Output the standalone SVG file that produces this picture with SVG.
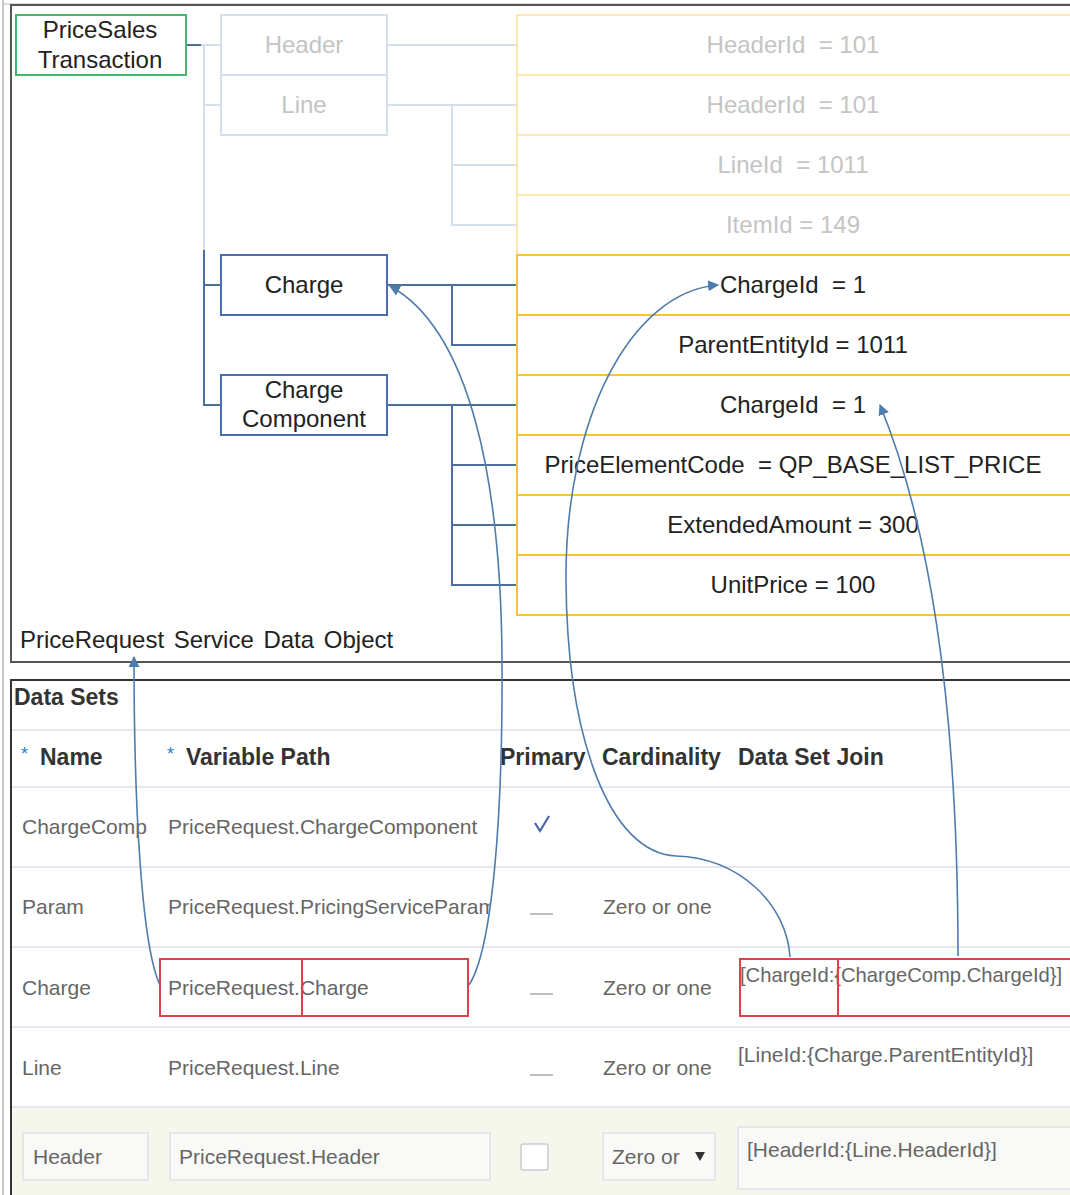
<svg xmlns="http://www.w3.org/2000/svg" width="1070" height="1195" viewBox="0 0 1070 1195">
<style>
text{font-family:"Liberation Sans",Arial,sans-serif}
.t{font-size:24px;fill:#222;text-anchor:middle}
.tf{font-size:24px;fill:#c4c4c4;text-anchor:middle}
.fbox{fill:#fff;stroke:#d6dfec;stroke-width:2}
.dbox{fill:#fff;stroke:#4a6fad;stroke-width:2}
.yf{fill:#fff;stroke:#fde8b4;stroke-width:2}
.yb{fill:#fff;stroke:#f9c23c;stroke-width:2}
.cf{fill:none;stroke:#d6dfec;stroke-width:2}
.cd{fill:none;stroke:#4d6f9c;stroke-width:2}
.arr{fill:none;stroke:#4f7caa;stroke-width:1.6}
.hd{font-size:23px;font-weight:bold;fill:#333}
.b{font-size:21px;fill:#666}
.star{font-size:18px;fill:#2f7fc6}
.rl{stroke:#e2e8ee;stroke-width:2}
.red{fill:none;stroke:#d9434b;stroke-width:2}
.dash{stroke:#aaa;stroke-width:1.5}
.inp{fill:#f9faf8;stroke:#dde2e6;stroke-width:1.5}
</style>
<defs>
<marker id="ah" viewBox="0 0 10 10" refX="9" refY="5" markerWidth="11" markerHeight="11" markerUnits="userSpaceOnUse" orient="auto">
<path d="M0,0 L10,5 L0,10 z" fill="#4f7caa"/>
</marker>
<clipPath id="clipParam"><rect x="160" y="880" width="330" height="60"/></clipPath>
</defs>
<rect width="1070" height="1195" fill="#fff"/>
<!-- frames -->
<line x1="3" y1="0" x2="3" y2="1195" stroke="#c8c8c8" stroke-width="2"/>
<line x1="3" y1="4" x2="1070" y2="4" stroke="#bbb" stroke-width="1"/>
<path d="M1075,5 L11,5 L11,662 L1075,662" fill="none" stroke="#555" stroke-width="2"/>
<path d="M1075,680 L11,680 L11,1195" fill="none" stroke="#333" stroke-width="2"/>

<g id="connectors">
<path class="cd" d="M186,45 H201"/>
<path class="cf" d="M201,45 H221 M204,45 V255 M204,105 H221"/>
<path class="cd" d="M204,250 V405 H221 M204,285 H221"/>
<path class="cf" d="M387,45 H517 M387,105 H517 M452,105 V225 H517 M452,165 H517"/>
<path class="cd" d="M387,285 H517 M452,285 V345 H517"/>
<path class="cd" d="M387,405 H517 M452,405 V585 H517 M452,465 H517 M452,525 H517"/>
</g>

<g id="node-pricesales">
<rect x="16" y="15" width="170" height="60" fill="#fff" stroke="#3dba6c" stroke-width="2"/>
<text class="t" x="100" y="38">PriceSales</text>
<text class="t" x="100" y="68">Transaction</text>
</g>
<g id="node-header"><rect class="fbox" x="221" y="15" width="166" height="60"/><text class="tf" x="304" y="53">Header</text></g>
<g id="node-line"><rect class="fbox" x="221" y="75" width="166" height="60"/><text class="tf" x="304" y="113">Line</text></g>
<g id="node-charge"><rect class="dbox" x="221" y="255" width="166" height="60"/><text class="t" x="304" y="293">Charge</text></g>
<g id="node-chargecomponent"><rect class="dbox" x="221" y="375" width="166" height="60"/><text class="t" x="304" y="398">Charge</text><text class="t" x="304" y="427">Component</text></g>

<g id="node-f1"><rect class="yf" x="517" y="15" width="560" height="60"/><text class="tf" x="793" y="53" xml:space="preserve">HeaderId  = 101</text></g>
<g id="node-f2"><rect class="yf" x="517" y="75" width="560" height="60"/><text class="tf" x="793" y="113" xml:space="preserve">HeaderId  = 101</text></g>
<g id="node-f3"><rect class="yf" x="517" y="135" width="560" height="60"/><text class="tf" x="793" y="173" xml:space="preserve">LineId  = 1011</text></g>
<g id="node-f4"><rect class="yf" x="517" y="195" width="560" height="60"/><text class="tf" x="793" y="233">ItemId = 149</text></g>
<g id="node-f5"><rect class="yb" x="517" y="255" width="560" height="60"/><text class="t" x="793" y="293" xml:space="preserve">ChargeId  = 1</text></g>
<g id="node-f6"><rect class="yb" x="517" y="315" width="560" height="60"/><text class="t" x="793" y="353">ParentEntityId = 1011</text></g>
<g id="node-f7"><rect class="yb" x="517" y="375" width="560" height="60"/><text class="t" x="793" y="413" xml:space="preserve">ChargeId  = 1</text></g>
<g id="node-f8"><rect class="yb" x="517" y="435" width="560" height="60"/><text class="t" x="793" y="473" xml:space="preserve">PriceElementCode  = QP_BASE_LIST_PRICE</text></g>
<g id="node-f9"><rect class="yb" x="517" y="495" width="560" height="60"/><text class="t" x="793" y="533">ExtendedAmount = 300</text></g>
<g id="node-f10"><rect class="yb" x="517" y="555" width="560" height="60"/><text class="t" x="793" y="593">UnitPrice = 100</text></g>

<text x="20" y="648" font-size="24" fill="#222" word-spacing="3">PriceRequest Service Data Object</text>

<!-- Data sets table -->
<g id="table">
<text class="hd" x="14" y="705">Data Sets</text>
<line class="rl" x1="12" y1="730" x2="1070" y2="730"/>
<line class="rl" x1="12" y1="787" x2="1070" y2="787"/>
<line class="rl" x1="12" y1="867" x2="1070" y2="867"/>
<line class="rl" x1="12" y1="947" x2="1070" y2="947"/>
<line class="rl" x1="12" y1="1027" x2="1070" y2="1027"/>
<rect x="12" y="1108" width="1060" height="87" fill="#f6f7ec"/>
<line class="rl" x1="12" y1="1107" x2="1070" y2="1107"/>

<text class="star" x="21" y="760">*</text><text class="hd" x="40" y="765">Name</text>
<text class="star" x="167" y="760">*</text><text class="hd" x="186" y="765">Variable Path</text>
<text class="hd" x="500" y="765">Primary</text>
<text class="hd" x="602" y="765">Cardinality</text>
<text class="hd" x="738" y="765">Data Set Join</text>

<text class="b" x="22" y="834">ChargeComp</text>
<text class="b" x="168" y="834">PriceRequest.ChargeComponent</text>
<path d="M535,823 L540,831 L549,816" fill="none" stroke="#4a66a8" stroke-width="2.2"/>

<text class="b" x="22" y="914">Param</text>
<text class="b" x="168" y="914" clip-path="url(#clipParam)">PriceRequest.PricingServiceParam</text>
<line class="dash" x1="530" y1="914" x2="553" y2="914"/>
<text class="b" x="603" y="914">Zero or one</text>

<text class="b" x="22" y="995">Charge</text>
<text class="b" x="168" y="995">PriceRequest.Charge</text>
<rect class="red" x="160" y="959" width="142" height="57"/>
<rect class="red" x="302" y="959" width="166" height="57"/>
<line class="dash" x1="530" y1="994" x2="553" y2="994"/>
<text class="b" x="603" y="995">Zero or one</text>
<text x="740" y="982" font-size="20.2" fill="#666">[ChargeId:{ChargeComp.ChargeId}]</text>
<rect class="red" x="740" y="959" width="98" height="57"/>
<rect class="red" x="838" y="959" width="240" height="57"/>

<text class="b" x="22" y="1075">Line</text>
<text class="b" x="168" y="1075">PriceRequest.Line</text>
<line class="dash" x1="530" y1="1075" x2="553" y2="1075"/>
<text class="b" x="603" y="1075">Zero or one</text>
<text class="b" x="738" y="1062">[LineId:{Charge.ParentEntityId}]</text>

<rect class="inp" x="23" y="1133" width="125" height="47"/>
<text class="b" x="33" y="1164">Header</text>
<rect class="inp" x="170" y="1133" width="320" height="47"/>
<text class="b" x="179" y="1164">PriceRequest.Header</text>
<rect x="521" y="1144" width="27" height="26" rx="2" fill="#fff" stroke="#c9cdd2" stroke-width="1.5"/>
<rect class="inp" x="603" y="1133" width="112" height="47"/>
<text class="b" x="612" y="1164">Zero or</text>
<path d="M695,1152 L705,1152 L700,1161 z" fill="#333"/>
<rect class="inp" x="738" y="1127" width="340" height="62"/>
<text class="b" x="747" y="1157">[HeaderId:{Line.HeaderId}]</text>
</g>

<g id="arrows">
<path class="arr" marker-end="url(#ah)" d="M160,985 C141,945 134,800 134,657"/>
<path class="arr" marker-end="url(#ah)" d="M469,985 C492,950 503,820 502,660 C501,480 470,330 390,286"/>
<path class="arr" marker-end="url(#ah)" d="M790,957 C787,905 740,858 676,856 C610,853 567,740 566,580 C565,420 630,292 718,285"/>
<path class="arr" marker-end="url(#ah)" d="M958,956 C958,800 948,570 880,405"/>
</g>
</svg>
